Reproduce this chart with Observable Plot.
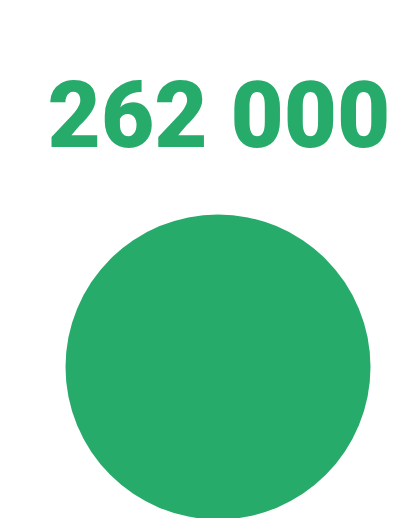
<!DOCTYPE html>
<html>
<head>
<meta charset="utf-8">
<script src="https://cdn.jsdelivr.net/npm/d3@7"></script>
<script src="https://cdn.jsdelivr.net/npm/@observablehq/plot@0.6"></script>
<style>
  html, body { margin: 0; padding: 0; background: #fff; }
  svg { display: block; }
</style>
</head>
<body>
<div id="chart"></div>
<script>
const labels = ["Total"];
const values = [262000];
const color = "#27ab6b";

const fmt = d3.formatLocale({decimal: ",", thousands: " ", grouping: [3], currency: ["", ""]}).format(",d");
const data = labels.map((l, i) => ({label: l, value: values[i], text: fmt(values[i])}));

const chart = Plot.plot({
  width: 417,
  height: 518,
  marginLeft: 18,
  marginRight: 0,
  marginTop: 81,
  marginBottom: 0,
  r: {type: "sqrt", domain: [0, 262000], range: [0, 152.5]},
  marks: [
    Plot.text(data, {
      text: "text",
      frameAnchor: "top",
      lineAnchor: "top",
      fill: color,
      fontSize: 92,
      fontWeight: 900,
      fontFamily: "Roboto",
      dx: 1,
      style: "letter-spacing: 2.5px"
    }),
    Plot.dot(data, {
      frameAnchor: "top",
      r: "value",
      dy: 285.5,
      fill: color,
      stroke: "none"
    })
  ]
});
chart.style.fontFamily = "Roboto";
document.getElementById("chart").appendChild(chart);
</script>
</body>
</html>
